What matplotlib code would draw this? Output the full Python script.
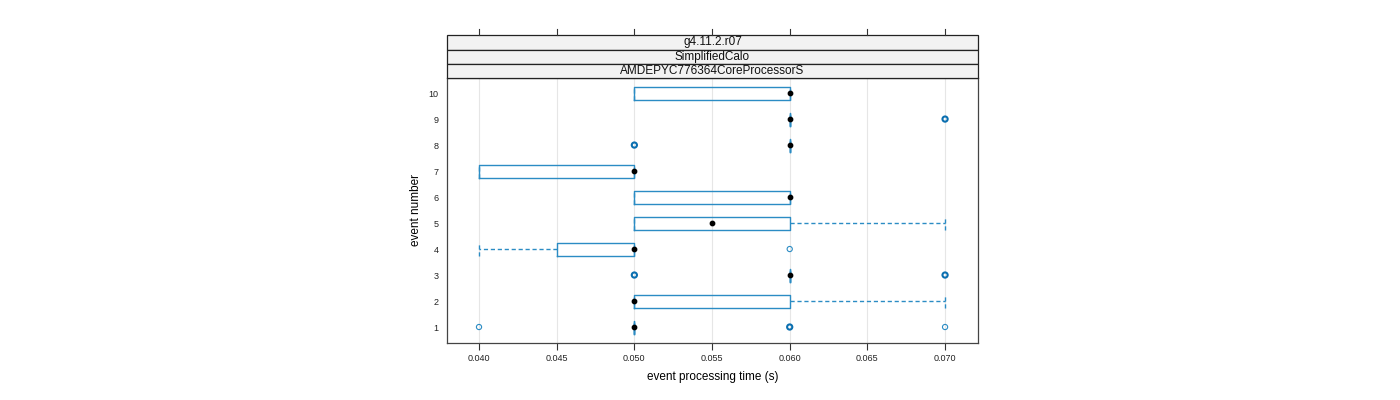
import matplotlib
matplotlib.use("Agg")
import matplotlib.pyplot as plt
from matplotlib.lines import Line2D
from matplotlib.patches import Rectangle
import matplotlib.transforms as mtransforms

plt.rcParams['font.family'] = ['Liberation Sans', 'DejaVu Sans']

events = [1, 2, 3, 4, 5, 6, 7, 8, 9, 10]
q1 = [0.050, 0.050, 0.060, 0.045, 0.050, 0.050, 0.040, 0.060, 0.060, 0.050]
med = [0.050, 0.050, 0.060, 0.050, 0.055, 0.060, 0.050, 0.060, 0.060, 0.060]
q3 = [0.050, 0.060, 0.060, 0.050, 0.060, 0.060, 0.050, 0.060, 0.060, 0.060]
whislo = [0.050, 0.050, 0.060, 0.040, 0.050, 0.050, 0.040, 0.060, 0.060, 0.050]
whishi = [0.050, 0.070, 0.060, 0.050, 0.070, 0.060, 0.050, 0.060, 0.060, 0.060]
outliers = [[0.040, 0.060, 0.070], [], [0.050, 0.070], [0.060], [], [], [],
            [0.050], [0.070], []]
outlier_bold = [[False, True, False], [], [True, True], [False], [], [], [],
                [True], [True], []]
xticks = [0.040, 0.045, 0.050, 0.055, 0.060, 0.065, 0.070]
strip_labels = ["g4.11.2.r07", "SimplifiedCalo", "AMDEPYC776364CoreProcessorS"]

blue = '#2b8cc4'
dark_blue = '#0a6fb0'

W, H = 1400, 400
fig = plt.figure(figsize=(14, 4), dpi=100)
L, R, B, T = 447, 978, 343, 78
ax = fig.add_axes([L / W, 1 - B / H, (R - L) / W, (B - T) / H])

ax.set_xlim(0.03794, 0.07212)
ax.set_ylim(0.385, 10.58)

for xv in xticks:
    ax.axvline(xv, color='#e6e6e6', lw=0.8, zorder=0)

stats = []
for i in range(len(events)):
    stats.append(dict(med=med[i], q1=q1[i], q3=q3[i], whislo=whislo[i],
                      whishi=whishi[i], fliers=[]))
ax.bxp(stats, positions=events, vert=False, widths=0.5, showfliers=False,
       showcaps=True, capwidths=0.5, manage_ticks=False,
       boxprops=dict(color=blue, lw=1.0),
       whiskerprops=dict(color=blue, lw=1.0, ls=(0, (3, 2))),
       capprops=dict(color=blue, lw=1.0, ls=(0, (3, 2))),
       medianprops=dict(lw=0))

ax.scatter(med, events, s=10, color='black', zorder=5)

for i, ev in enumerate(events):
    for xv, bold in zip(outliers[i], outlier_bold[i]):
        ax.scatter([xv], [ev], s=14, facecolors='none',
                   edgecolors=dark_blue if bold else blue,
                   linewidths=1.5 if bold else 0.8, zorder=4)

ax.set_xticks(xticks)
ax.set_xticklabels([f"{v:.3f}" for v in xticks], fontsize=6.5, color='#222222')
ax.set_yticks(events)
ax.set_yticklabels([str(e) for e in events], fontsize=6.5, color='#222222')
ax.tick_params(axis='x', direction='out', length=5, width=0.8, color='#333333', pad=3)
ax.tick_params(axis='y', length=0, pad=6)
for s in ax.spines.values():
    s.set_color('#444444')
    s.set_linewidth(0.9)

ax.set_xlabel("event processing time (s)", fontsize=8.5, labelpad=6)
ax.set_ylabel("event number", fontsize=8.5, labelpad=5)

# strips
strip_edges = [35, 49.5, 64, 78]
for j, lab in enumerate(strip_labels):
    y0 = strip_edges[j]
    y1 = strip_edges[j + 1]
    fig.add_artist(Rectangle((L / W, 1 - y1 / H), (R - L) / W, (y1 - y0) / H,
                             transform=fig.transFigure, facecolor='#f2f2f2',
                             edgecolor='#222222', lw=0.9))
    fig.text((L + R) / 2 / W, 1 - (y0 + y1) / 2 / H, lab, ha='center',
             va='center', fontsize=8.5, color='#111111')

# top ticks above strips
trans = mtransforms.blended_transform_factory(ax.transData, fig.transFigure)
for xv in xticks:
    fig.add_artist(Line2D([xv, xv], [1 - 29 / H, 1 - 35 / H], transform=trans,
                          color='#333333', lw=0.8))

fig.savefig("out.png", dpi=100)
